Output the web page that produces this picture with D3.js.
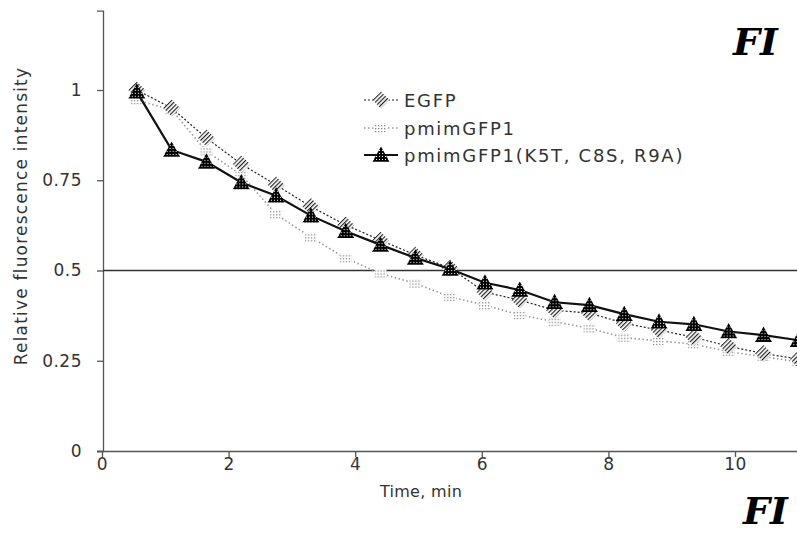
<!DOCTYPE html>
<html lang="en">
<head>
  <meta charset="UTF-8">
  <title>Relative fluorescence intensity over time</title>
  <style>
    body { margin: 0; background: #fff; }
    svg { display: block; font-family: "DejaVu Sans", Verdana, sans-serif; }
  </style>
  <script src="https://d3js.org/d3.v7.min.js"></script>
</head>
<body>
  <div id="chart"></div>

  <script>
    // time points (min)
    const times = [0.55, 1.1, 1.65, 2.2, 2.75, 3.3, 3.85, 4.4, 4.95, 5.5,
                   6.05, 6.6, 7.15, 7.7, 8.25, 8.8, 9.35, 9.9, 10.45, 11.0];

    const egfp = [1.0, 0.95, 0.867, 0.795, 0.737, 0.677, 0.626, 0.584, 0.543, 0.507,
                  0.44, 0.418, 0.39, 0.382, 0.354, 0.335, 0.315, 0.29, 0.27, 0.255];

    const pmim = [0.972, 0.945, 0.83, 0.765, 0.656, 0.592, 0.534, 0.492, 0.464, 0.427,
                  0.404, 0.377, 0.358, 0.34, 0.314, 0.305, 0.296, 0.275, 0.261, 0.247];

    const mutant = [0.995, 0.834, 0.801, 0.744, 0.707, 0.652, 0.609, 0.571, 0.535, 0.504,
                    0.466, 0.446, 0.412, 0.404, 0.379, 0.358, 0.351, 0.331, 0.321, 0.307];

    const seriesNames = ["EGFP", "pmimGFP1", "pmimGFP1(K5T, C8S, R9A)"];
    const xTicks = [0, 2, 4, 6, 8, 10];
    const yTicks = [0, 0.25, 0.5, 0.75, 1];

    const W = 797, H = 535;

    const svg = d3.select("#chart")
      .append("svg")
      .attr("width", W)
      .attr("height", H);

    // fill patterns for the markers
    const defs = svg.append("defs");

    const dots = defs.append("pattern")
      .attr("id", "darkdots")
      .attr("width", 3).attr("height", 3)
      .attr("patternUnits", "userSpaceOnUse");
    dots.append("rect").attr("width", 3).attr("height", 3).attr("fill", "#000");
    dots.append("rect").attr("x", 1).attr("y", 1).attr("width", 1).attr("height", 1).attr("fill", "#fff");

    const hatch = defs.append("pattern")
      .attr("id", "hatch")
      .attr("width", 3).attr("height", 3)
      .attr("patternUnits", "userSpaceOnUse")
      .attr("patternTransform", "rotate(45)");
    hatch.append("rect").attr("width", 3).attr("height", 3).attr("fill", "#fff");
    hatch.append("rect").attr("width", 1.2).attr("height", 3).attr("fill", "#222");

    const light = defs.append("pattern")
      .attr("id", "lightdots")
      .attr("width", 3).attr("height", 3)
      .attr("patternUnits", "userSpaceOnUse");
    light.append("rect").attr("width", 3).attr("height", 3).attr("fill", "#fff");
    light.append("rect").attr("width", 1.3).attr("height", 1.3).attr("fill", "#888");

    const x = d3.scaleLinear().domain([0, 12]).range([102, 102 + 12 * 63.3]);
    const y = d3.scaleLinear().domain([0, 1.22]).range([451, 10.6]);

    const tickFont = "17px";

    // axes
    const xAxis = d3.axisBottom(x)
      .tickValues(xTicks)
      .tickSize(6)
      .tickPadding(1)
      .tickFormat(d3.format("d"));

    const yAxis = d3.axisLeft(y)
      .tickValues(yTicks)
      .tickSize(6)
      .tickPadding(15)
      .tickFormat(d => d);

    const gx = svg.append("g")
      .attr("transform", `translate(0,${y(0)})`)
      .call(xAxis);
    gx.select(".domain").attr("d", `M97,0.5H${W}`);

    const gy = svg.append("g")
      .attr("transform", `translate(${x(0) + 1},0)`)
      .call(yAxis);

    svg.selectAll(".domain").attr("stroke", "#555").attr("stroke-width", 1.3);
    svg.selectAll(".tick line").attr("stroke", "#555").attr("stroke-width", 1.3);
    svg.selectAll(".tick text")
      .attr("fill", "#333")
      .style("font-size", tickFont)
      .style("letter-spacing", "0.5px")
      .style("font-family", "'DejaVu Sans', Verdana, sans-serif");

    // 0.5 reference line
    svg.append("line")
      .attr("x1", x(0) + 1).attr("x2", W)
      .attr("y1", y(0.5)).attr("y2", y(0.5))
      .attr("stroke", "#333")
      .attr("stroke-width", 1.3);

    // axis titles
    svg.append("text")
      .attr("x", 421)
      .attr("y", 497)
      .attr("text-anchor", "middle")
      .attr("fill", "#333")
      .style("font-size", "16px")
      .style("letter-spacing", "0.3px")
      .text("Time, min");

    svg.append("text")
      .attr("transform", "rotate(-90)")
      .attr("x", -216)
      .attr("y", 27)
      .attr("text-anchor", "middle")
      .attr("fill", "#333")
      .style("font-size", "17px")
      .style("letter-spacing", "1.2px")
      .text("Relative fluorescence intensity");

    const plot = svg.append("g");

    const line = d3.line()
      .x(d => x(d[0]))
      .y(d => y(d[1]));

    const series = {
      egfp: { name: seriesNames[0], values: egfp, stroke: "#222", width: 1.2, dash: "2,2",
              shape: "diamond", fill: "url(#hatch)", size: 17 },
      pmim: { name: seriesNames[1], values: pmim, stroke: "#999", width: 1.6, dash: "1.5,2.5",
              shape: "square", fill: "url(#lightdots)", size: 15 },
      mutant: { name: seriesNames[2], values: mutant, stroke: "#111", width: 2.2, dash: null,
                shape: "triangle", fill: "url(#darkdots)", size: 17 }
    };

    function markerPath(shape, s) {
      const h = s / 2;
      if (shape === "triangle") return `M0,${-h}L${h},${h * 0.8}L${-h},${h * 0.8}Z`;
      if (shape === "diamond") return `M0,${-h}L${h},0L0,${h}L${-h},0Z`;
      return `M${-h * 0.8},${-h * 0.6}H${h * 0.8}V${h * 0.6}H${-h * 0.8}Z`;
    }

    // draw light series first, solid black one on top
    [series.pmim, series.egfp, series.mutant].forEach(s => {
      const pts = times.map((t, i) => [t, s.values[i]]);
      plot.append("path")
        .datum(pts)
        .attr("d", line)
        .attr("fill", "none")
        .attr("stroke", s.stroke)
        .attr("stroke-width", s.width)
        .attr("stroke-dasharray", s.dash);

      plot.selectAll(null)
        .data(pts)
        .join("path")
        .attr("transform", d => `translate(${x(d[0])},${y(d[1])})`)
        .attr("d", markerPath(s.shape, s.size))
        .attr("fill", s.fill)
        .attr("stroke", "none");
    });

    // legend
    const legendY = [100, 128, 155];
    const legend = svg.append("g");
    [series.egfp, series.pmim, series.mutant].forEach((s, i) => {
      const row = legend.append("g").attr("transform", `translate(0,${legendY[i]})`);
      row.append("line")
        .attr("x1", 364).attr("x2", 398)
        .attr("stroke", s.stroke)
        .attr("stroke-width", s.width)
        .attr("stroke-dasharray", s.dash);
      row.append("path")
        .attr("transform", "translate(381,0)")
        .attr("d", markerPath(s.shape, s.size))
        .attr("fill", s.fill);
      row.append("text")
        .attr("x", 404)
        .attr("y", 6.5)
        .attr("fill", "#333")
        .style("font-size", "18px")
        .style("letter-spacing", "1.7px")
        .text(s.name);
    });

    // figure labels at the right edge
    const figStyle = sel => sel
      .attr("fill", "#000")
      .style("font-family", "'DejaVu Serif', serif")
      .style("font-style", "italic")
      .style("font-weight", "bold")
      .style("font-size", "38px");

    svg.append("text")
      .attr("x", 733)
      .attr("y", 55)
      .call(figStyle)
      .text("FI");

    svg.append("text")
      .attr("x", 743)
      .attr("y", 524)
      .call(figStyle)
      .text("FI");
  </script>
</body>
</html>
